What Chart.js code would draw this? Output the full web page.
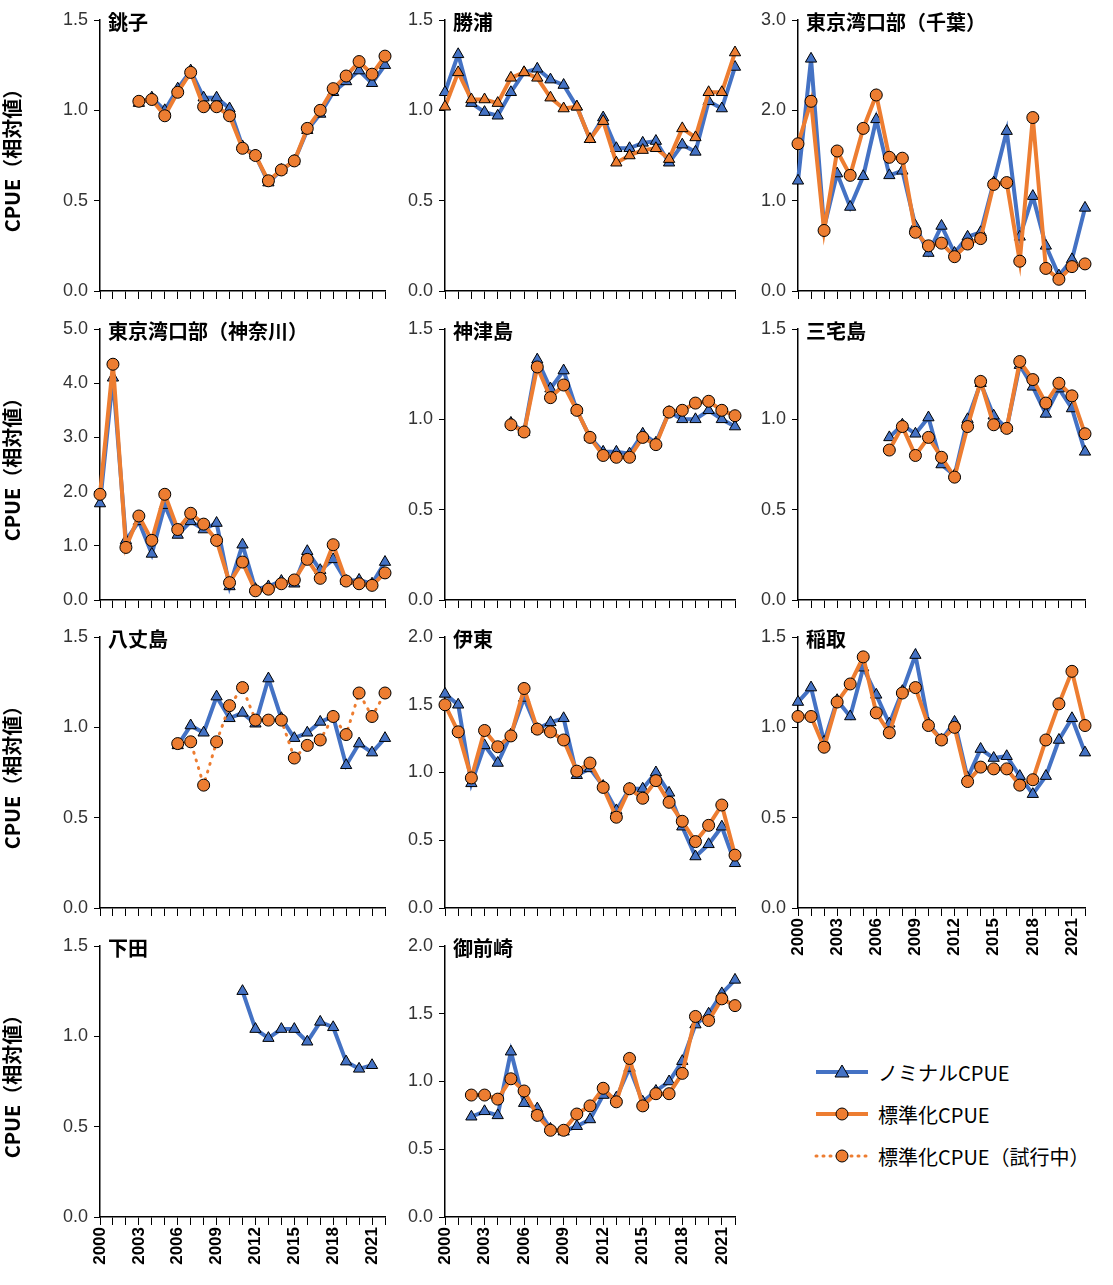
<!DOCTYPE html>
<html><head><meta charset="utf-8">
<script src="https://cdn.jsdelivr.net/npm/chart.js@4"></script>
<style>
body{margin:0;background:#fff;width:1113px;height:1285px;position:relative;overflow:hidden;font-family:"Liberation Sans","Noto Sans CJK JP",sans-serif}
.p{position:absolute}
#legend{position:absolute;left:812px;top:1051px;font-size:20px;font-family:"Noto Sans CJK JP",sans-serif;color:#000}
#legend div{height:42px;display:flex;align-items:center}
#legend svg{margin-right:6px}
</style></head><body>
<div id="legend">
<div><svg width="60" height="30"><line x1="4" y1="15" x2="56" y2="15" stroke="#4472C4" stroke-width="4"/><polygon points="30,8 37,20 23,20" fill="#4472C4" stroke="#000" stroke-width="1"/></svg>ノミナルCPUE</div>
<div><svg width="60" height="30"><line x1="4" y1="15" x2="56" y2="15" stroke="#ED7D31" stroke-width="4"/><circle cx="30" cy="15" r="6" fill="#ED7D31" stroke="#000" stroke-width="1"/></svg>標準化CPUE</div>
<div><svg width="60" height="30"><line x1="4" y1="15" x2="56" y2="15" stroke="#ED7D31" stroke-width="3" stroke-dasharray="1 6" stroke-linecap="round"/><circle cx="30" cy="15" r="6" fill="#ED7D31" stroke="#000" stroke-width="1"/></svg>標準化CPUE（試行中）</div>
</div>
<script>
const years=[2000,2001,2002,2003,2004,2005,2006,2007,2008,2009,2010,2011,2012,2013,2014,2015,2016,2017,2018,2019,2020,2021,2022];
const titles=["銚子","勝浦","東京湾口部（千葉）","東京湾口部（神奈川）","神津島","三宅島","八丈島","伊東","稲取","下田","御前崎"];
const yMax=[1.5,1.5,3.0,5.0,1.5,1.5,1.5,2.0,1.5,1.5,2.0];
const yStep=[0.5,0.5,1.0,1.0,0.5,0.5,0.5,0.5,0.5,0.5,0.5];
const choshiNom=[1.04,1.07,1.0,1.12,1.22,1.07,1.07,1.01,0.8,0.75,0.6,0.67,0.72,0.89,0.98,1.1,1.16,1.22,1.15,1.25];
const choshiStd=[1.05,1.06,0.97,1.1,1.21,1.02,1.02,0.97,0.79,0.75,0.61,0.67,0.72,0.9,1.0,1.12,1.19,1.27,1.2,1.3];
const katsuuraNom=[1.1,1.31,1.04,0.99,0.97,1.1,1.21,1.23,1.17,1.14,1.02,0.84,0.96,0.79,0.79,0.82,0.83,0.71,0.81,0.77,1.05,1.01,1.24];
const katsuuraStd=[1.02,1.21,1.06,1.06,1.04,1.18,1.21,1.18,1.07,1.01,1.02,0.84,0.94,0.71,0.75,0.78,0.79,0.73,0.9,0.85,1.1,1.1,1.32];
const chibaNom=[1.22,2.57,0.7,1.3,0.93,1.27,1.9,1.28,1.33,0.72,0.42,0.72,0.42,0.6,0.65,1.2,1.77,0.6,1.05,0.5,0.17,0.35,0.92];
const chibaStd=[1.63,2.1,0.67,1.55,1.28,1.8,2.17,1.48,1.47,0.65,0.5,0.53,0.38,0.52,0.58,1.18,1.2,0.33,1.92,0.25,0.13,0.27,0.3];
const kanagawaNom=[1.78,4.1,1.1,1.45,0.85,1.75,1.2,1.45,1.3,1.42,0.25,1.02,0.2,0.25,0.35,0.3,0.9,0.55,0.75,0.35,0.37,0.3,0.7];
const kanagawaStd=[1.95,4.35,0.97,1.55,1.1,1.95,1.3,1.6,1.4,1.1,0.32,0.7,0.17,0.2,0.3,0.37,0.75,0.4,1.02,0.35,0.3,0.27,0.5];
const kozuNom=[0.98,0.93,1.33,1.17,1.27,1.05,0.9,0.82,0.82,0.81,0.92,0.87,1.04,1.0,1.0,1.05,1.0,0.96];
const kozuStd=[0.97,0.93,1.29,1.12,1.19,1.05,0.9,0.8,0.79,0.79,0.9,0.86,1.04,1.05,1.09,1.1,1.05,1.02];
const miyakeNom=[0.9,0.97,0.92,1.01,0.75,0.69,1.0,1.2,1.02,0.95,1.3,1.18,1.03,1.17,1.06,0.82];
const miyakeStd=[0.83,0.96,0.8,0.9,0.79,0.68,0.96,1.21,0.97,0.95,1.32,1.22,1.09,1.2,1.13,0.92];
const hachijoNom=[0.9,1.01,0.97,1.17,1.05,1.08,1.02,1.27,1.05,0.94,0.97,1.03,1.06,0.79,0.91,0.86,0.94];
const hachijoTrial=[0.91,0.92,0.68,0.92,1.12,1.22,1.04,1.04,1.04,0.83,0.9,0.93,1.06,0.96,1.19,1.06,1.19];
const itoNom=[1.58,1.5,0.92,1.2,1.07,1.28,1.55,1.32,1.37,1.4,0.98,1.03,0.9,0.72,0.88,0.88,1.0,0.85,0.6,0.38,0.47,0.6,0.33];
const itoStd=[1.5,1.3,0.96,1.31,1.19,1.27,1.62,1.32,1.3,1.24,1.01,1.07,0.89,0.67,0.88,0.81,0.94,0.78,0.64,0.49,0.61,0.76,0.39];
const inatoriNom=[1.14,1.22,0.92,1.15,1.06,1.33,1.18,1.02,1.2,1.4,1.02,0.93,1.03,0.72,0.88,0.83,0.84,0.73,0.63,0.73,0.93,1.05,0.86];
const inatoriStd=[1.06,1.06,0.89,1.14,1.24,1.39,1.08,0.97,1.19,1.22,1.01,0.93,1.0,0.7,0.78,0.77,0.77,0.68,0.71,0.93,1.13,1.31,1.01];
const shimodaNom=[1.25,1.04,0.99,1.04,1.04,0.97,1.08,1.05,0.86,0.82,0.84];
const omaezakiNom=[0.74,0.78,0.75,1.22,0.84,0.8,0.65,0.63,0.67,0.72,0.9,0.88,1.1,0.85,0.93,1.0,1.15,1.42,1.5,1.65,1.75];
const omaezakiStd=[0.9,0.9,0.87,1.02,0.93,0.75,0.64,0.64,0.76,0.82,0.95,0.85,1.17,0.82,0.91,0.91,1.06,1.48,1.45,1.61,1.56];

const BLUE='#4472C4',ORANGE='#ED7D31';
function pts(vals,start){return vals.map((v,i)=>({x:start+i,y:v}));}
function nom(vals,start){return {data:pts(vals,start),borderColor:BLUE,backgroundColor:BLUE,borderWidth:4,pointStyle:'triangle',pointRadius:6.5,pointBorderColor:'#000',pointBorderWidth:1,order:2,clip:false};}
function std(vals,start,tri){return {data:pts(vals,start),borderColor:ORANGE,backgroundColor:ORANGE,borderWidth:4,pointStyle:tri?'triangle':'circle',pointRadius:tri?6.5:6,pointBorderColor:'#000',pointBorderWidth:1,order:1,clip:false};}
function trial(vals,start){const d=std(vals,start);d.borderWidth=3;d.borderDash=[1,7];d.borderCapStyle='round';return d;}
const panelData=[
 [nom(choshiNom,2003),std(choshiStd,2003)],
 [nom(katsuuraNom,2000),std(katsuuraStd,2000,true)],
 [nom(chibaNom,2000),std(chibaStd,2000)],
 [nom(kanagawaNom,2000),std(kanagawaStd,2000)],
 [nom(kozuNom,2005),std(kozuStd,2005)],
 [nom(miyakeNom,2007),std(miyakeStd,2007)],
 [nom(hachijoNom,2006),trial(hachijoTrial,2006)],
 [nom(itoNom,2000),std(itoStd,2000)],
 [nom(inatoriNom,2000),std(inatoriStd,2000)],
 [nom(shimodaNom,2011)],
 [nom(omaezakiNom,2002),std(omaezakiStd,2002)]
];
const colLeft=[100,445,798],colW=[285,290,287];
const rowTop=[20,329,637,946],areaH=271;
const showX=[false,false,false,false,false,false,false,false,true,true,true];

const titlePlugin={id:'ptitle',afterDraw(c,a,o){const ctx=c.ctx,ca=c.chartArea;ctx.save();ctx.font='bold 20px "Noto Sans CJK JP"';ctx.fillStyle='#000';ctx.textBaseline='top';ctx.fillText(o.text,ca.left+8,ca.top-8);ctx.restore();}};

titles.forEach((t,i)=>{
 const col=i%3,row=Math.floor(i/3);
 const yw=col===0?100:55;
 const xh=showX[i]?62:8;
 const left=colLeft[col]-yw, top=rowTop[row]-12;
 const w=yw+colW[col]+12, h=12+areaH+xh;
 const div=document.createElement('div');div.className='p';
 div.style.cssText=`left:${left}px;top:${top}px;width:${w}px;height:${h}px`;
 const cv=document.createElement('canvas');div.appendChild(cv);document.body.appendChild(div);
 new Chart(cv,{type:'line',data:{datasets:panelData[i]},plugins:[titlePlugin],
  options:{responsive:true,maintainAspectRatio:false,animation:false,
   layout:{padding:{top:12,right:12,left:0,bottom:0},autoPadding:false},
   plugins:{legend:{display:false},tooltip:{enabled:false},ptitle:{text:t}},
   scales:{
    x:{type:'linear',min:2000,max:2022,
     ticks:{stepSize:1,autoSkip:false,minRotation:90,maxRotation:90,color:'#000',font:{size:17,family:'"Liberation Sans"',weight:'bold'},padding:2,
      display:showX[i],callback:v=>((v-2000)%3===0&&v<2022)?String(v):''},
     grid:{drawOnChartArea:false,tickLength:8,color:'#000',tickColor:'#000'},border:{color:'#000',width:1.5},
     afterFit:s=>{s.height=xh;s.paddingLeft=0;s.paddingRight=0;}},
    y:{min:0,max:yMax[i],
     ticks:{stepSize:yStep[i],color:'#333',font:{size:18,family:'"Liberation Sans"'},padding:6,callback:v=>Number(v).toFixed(1)},
     grid:{drawOnChartArea:false,tickLength:6,color:'#000',tickColor:'#000'},border:{color:'#000',width:1.5},
     title:{display:col===0,text:'CPUE（相対値）',color:'#000',font:{size:20,family:'"Noto Sans CJK JP"',weight:'bold'},padding:{top:0,bottom:0}},
     afterFit:s=>{s.width=yw;s.paddingTop=0;s.paddingBottom=0;}}
   }}});
});
</script></body></html>
